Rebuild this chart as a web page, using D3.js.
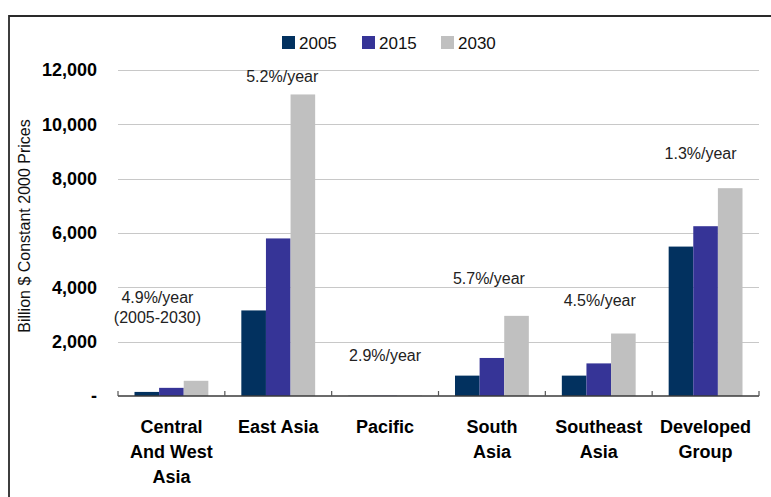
<!DOCTYPE html>
<html>
<head>
<meta charset="utf-8">
<script src="https://cdn.jsdelivr.net/npm/d3@7"></script>
<style>
  html, body { margin: 0; padding: 0; background: #fff; }
  svg { display: block; font-family: "Liberation Sans", Arial, sans-serif; }
</style>
</head>
<body>
<svg id="chart" width="771" height="497"></svg>
<script>
// Regions (multi-line labels)
const regions = [
  ["Central", "And West", "Asia"],
  ["East Asia"],
  ["Pacific"],
  ["South", "Asia"],
  ["Southeast", "Asia"],
  ["Developed", "Group"]
];
const years = ["2005", "2015", "2030"];

// GDP, billion $ constant 2000 prices
const gdp2005 = [150, 3150, 8, 750, 750, 5500];
const gdp2015 = [300, 5800, 11, 1400, 1200, 6250];
const gdp2030 = [560, 11100, 16, 2950, 2300, 7650];

const yTicks = [0, 2000, 4000, 6000, 8000, 10000, 12000];

// Growth rate notes, 2005-2030
const growthText = [
  ["4.9%/year", "(2005-2030)"],
  ["5.2%/year"],
  ["2.9%/year"],
  ["5.7%/year"],
  ["4.5%/year"],
  ["1.3%/year"]
];

const colors = ["#02315f", "#363497", "#c0c0c0"];

const svg = d3.select("#chart");
const margin = { left: 118, right: 12, top: 70, bottom: 101 };
const W = 771, H = 497;
const plotW = W - margin.left - margin.right;
const plotH = H - margin.top - margin.bottom;

const series = [gdp2005, gdp2015, gdp2030];
const rows = regions.map((r, i) => ({ idx: i, label: r, vals: series.map(s => s[i]) }));

const x0 = d3.scaleBand().domain(d3.range(regions.length)).range([0, plotW]).paddingInner(0).paddingOuter(0);
const groupPad = 16.5;
const x1 = d3.scaleBand().domain(d3.range(years.length)).range([groupPad, x0.bandwidth() - groupPad]).padding(0);
const y = d3.scaleLinear().domain([0, 12000]).range([plotH, 0]);

// outer frame (left and top edges)
svg.append("path")
  .attr("d", `M9,${H} V16 H${W}`)
  .attr("fill", "none").attr("stroke", "#2a2a2a").attr("stroke-width", 1.8);

const g = svg.append("g").attr("transform", `translate(${margin.left},${margin.top})`);

// gridlines
g.append("g").selectAll("line").data(yTicks.filter(t => t > 0)).join("line")
  .attr("x1", 0).attr("x2", plotW)
  .attr("y1", d => Math.round(y(d)) + 0.5).attr("y2", d => Math.round(y(d)) + 0.5)
  .attr("stroke", "#c8c8c8").attr("stroke-width", 1);

// y tick labels
const yAxis = d3.axisLeft(y).tickValues(yTicks)
  .tickFormat(d => d === 0 ? "-" : d3.format(",")(d))
  .tickSize(0).tickPadding(21);
const ya = g.append("g").call(yAxis);
ya.select(".domain").remove();
ya.selectAll("text")
  .attr("font-family", "'Liberation Sans', Arial, sans-serif")
  .attr("font-size", 18).attr("font-weight", "bold").attr("fill", "#000");

// bars
const grp = g.append("g").selectAll("g").data(rows).join("g")
  .attr("transform", d => `translate(${x0(d.idx)},0)`);
grp.selectAll("rect").data(d => d.vals.map((v, k) => ({ v, k }))).join("rect")
  .attr("x", d => x1(d.k))
  .attr("width", x1.bandwidth())
  .attr("y", d => y(d.v))
  .attr("height", d => plotH - y(d.v))
  .attr("fill", d => colors[d.k]);

// x axis with inward ticks at category boundaries
const xa = g.append("g").attr("transform", `translate(0,${plotH})`);
xa.append("line").attr("x1", 0).attr("x2", plotW).attr("y1", 0).attr("y2", 0)
  .attr("stroke", "#3a3a3a").attr("stroke-width", 1.5);
xa.selectAll("line.tk").data(d3.range(regions.length + 1)).join("line").attr("class", "tk")
  .attr("x1", d => d === regions.length ? plotW : x0(d))
  .attr("x2", d => d === regions.length ? plotW : x0(d))
  .attr("y1", 0).attr("y2", -5)
  .attr("stroke", "#555").attr("stroke-width", 1.2);

// category labels
const cl = xa.selectAll("text.cat").data(rows).join("text").attr("class", "cat")
  .attr("x", d => x0(d.idx) + x0.bandwidth() / 2)
  .attr("y", 37)
  .attr("text-anchor", "middle")
  .attr("font-size", 18).attr("font-weight", "bold").attr("fill", "#000");
cl.selectAll("tspan").data(d => d.label).join("tspan")
  .attr("x", function () { return d3.select(this.parentNode).attr("x"); })
  .attr("dy", (d, i) => i === 0 ? 0 : 25)
  .text(d => d);

// growth notes: horizontal offset from category centre and height in data units
const notePlace = [
  { dx: -14, v: 3420 },
  { dx: 4, v: 11550 },
  { dx: 0, v: 1290 },
  { dx: -3, v: 4110 },
  { dx: 1, v: 3300 },
  { dx: -5, v: 8740 }
];
const nt = g.append("g").selectAll("text").data(growthText).join("text")
  .attr("x", (d, i) => x0(i) + x0.bandwidth() / 2 + notePlace[i].dx)
  .attr("y", (d, i) => y(notePlace[i].v))
  .attr("text-anchor", "middle")
  .attr("font-size", 16).attr("fill", "#222");
nt.selectAll("tspan").data(d => d).join("tspan")
  .attr("x", function () { return d3.select(this.parentNode).attr("x"); })
  .attr("dy", (d, i) => i === 0 ? 0 : 20)
  .text(d => d);

// y axis title
svg.append("text")
  .attr("transform", "translate(30,226) rotate(-90)")
  .attr("text-anchor", "middle")
  .attr("font-size", 16).attr("fill", "#111")
  .text("Billion $ Constant 2000 Prices");

// legend
const legX = [282, 362, 441];
const leg = svg.append("g").selectAll("g").data(years).join("g")
  .attr("transform", (d, i) => `translate(${legX[i]},36)`);
leg.append("rect").attr("width", 13).attr("height", 13).attr("fill", (d, i) => colors[i]);
leg.append("text").attr("x", 17).attr("y", 12.5)
  .attr("font-size", 17).attr("fill", "#111").text(d => d);
</script>
</body>
</html>
